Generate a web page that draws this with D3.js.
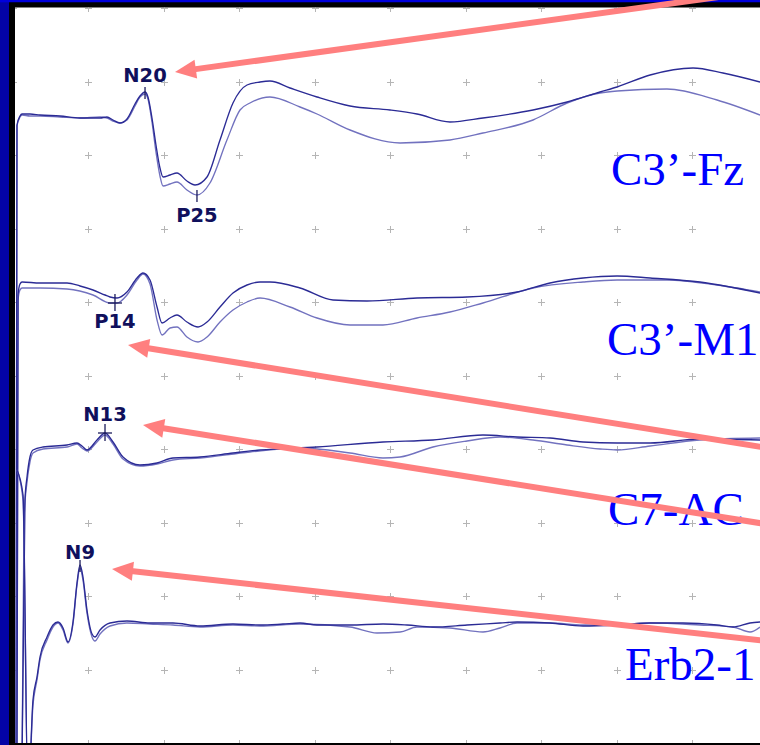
<!DOCTYPE html>
<html><head><meta charset="utf-8">
<script src="https://cdn.jsdelivr.net/npm/d3@7"></script>
<style>html,body{margin:0;padding:0;background:#fff;overflow:hidden}</style>
</head><body><svg id="c" width="760" height="745"></svg>
<script>
// ---------- DATA ----------
const channels = ["C3’-Fz", "C3’-M1", "C7-AC", "Erb2-1"];
const timeTicksMs = [0,10,20,30,40,50,60,70,80,90,100];
const ampRows = [0,1,2,3,4,5,6,7,8,9,10];

// [time ms, amplitude µV] — two superimposed averages per channel
const c3fzA = [[0.45,-64.4],[0.58,-0.9],[0.98,0],[1.25,0.2],[2.3,0.2],[3.63,0.1],[6.28,0],[8.93,-0.2],[11.58,-0.2],[12.5,-0.1],[13.3,-0.4],[14.22,-0.7],[15.15,-0.3],[16.21,1.2],[16.87,2.0],[17.54,2.4],[17.93,1.9],[18.46,-0.2],[18.99,-2.9],[19.52,-5.2],[19.92,-6.1],[20.85,-5.9],[21.77,-5.7],[23.09,-6.5],[24.16,-6.9],[25.75,-6.1],[27.47,-2.4],[29.19,1.3],[31.05,3.1],[32.77,3.4],[34.09,3.5],[36.74,2.8],[40.32,1.9],[44.69,1.0],[49.99,0.6],[53.56,0.2],[57.93,-0.6],[62.3,-0.2],[68.93,0.6],[73.44,1.4],[77.81,2.4],[80.07,2.9],[84.44,4.1],[90.12,4.8],[94.09,4.3],[99.0,3.4]];
const c3fzB = [[0.45,-64.4],[0.58,-1.0],[0.98,-0.1],[1.25,0.1],[2.3,0],[3.63,0],[6.28,-0.1],[8.93,-0.2],[11.58,-0.1],[12.5,-0.2],[13.3,-0.5],[14.22,-0.7],[15.15,-0.4],[16.21,1.0],[16.87,1.9],[17.54,2.2],[17.93,1.7],[18.46,-0.6],[18.99,-3.6],[19.52,-6.0],[19.92,-7.0],[20.85,-6.8],[21.77,-6.6],[23.09,-7.4],[24.42,-7.9],[26.14,-6.7],[28.39,-2.4],[30.12,0.6],[31.44,1.3],[34.09,1.9],[38.07,0.9],[40.32,0.2],[44.69,-1.4],[51.32,-2.7],[57.93,-2.4],[62.3,-1.7],[68.93,-0.4],[73.44,1.3],[77.81,2.3],[80.07,2.5],[86.67,2.7],[93.3,1.6],[99.0,0.1]];
const c3m1A = [[0.58,-47.5],[0.72,-1.0],[0.98,0.1],[1.25,0.3],[3.63,0.2],[7.21,0.2],[8.93,-0.1],[10.65,-0.5],[12.24,-1.0],[12.9,-1.2],[13.83,-1.3],[15.15,-0.7],[16.48,0.7],[17.27,1.2],[18.2,0.5],[19.13,-2.2],[19.79,-3.8],[20.85,-3.3],[21.77,-3.0],[23.09,-3.7],[24.56,-4.2],[25.75,-3.7],[27.47,-2.2],[29.19,-0.8],[31.05,0],[32.77,0.3],[34.09,0.3],[38.07,-0.3],[42.44,-1.5],[46.94,-1.6],[53.56,-1.3],[60.19,-1.2],[66.81,-0.7],[71.18,0.2],[75.56,0.7],[80.07,0.9],[84.44,0.7],[91.04,0.3],[99.0,-0.8]];
const c3m1B = [[0.58,-47.5],[0.72,-1.5],[0.98,-0.5],[1.25,-0.3],[3.63,-0.3],[7.21,-0.4],[10.65,-1.0],[12.9,-1.8],[13.83,-1.8],[15.15,-1.0],[16.48,0.5],[17.27,1.1],[18.2,0.1],[19.13,-3.5],[19.79,-5.0],[20.85,-4.3],[21.77,-4.2],[23.09,-5.2],[24.56,-5.7],[25.75,-5.2],[27.47,-3.7],[29.19,-2.5],[31.05,-1.7],[32.77,-1.3],[36.74,-2.2],[40.32,-3.3],[44.69,-4.0],[49.06,-4.0],[53.56,-3.3],[57.93,-2.7],[62.3,-1.8],[68.93,-0.3],[75.56,0.3],[80.07,0.5],[86.67,0.5],[93.3,0],[99.0,-0.7]];
const c7acA = [[1.25,-31.3],[1.64,-5.3],[1.91,-3.0],[2.3,-1.0],[2.7,-0.3],[4.03,0],[7.21,0.2],[8.53,0.4],[9.19,0.1],[9.85,-0.3],[11.18,0.7],[12.24,1.4],[13.3,0.5],[14.62,-1.0],[16.87,-1.8],[19.13,-1.6],[21.24,-1.1],[24.82,-1.0],[29.19,-0.6],[32.77,-0.3],[40.32,0],[49.06,0.5],[55.68,0.7],[62.3,1.2],[66.81,1.0],[71.18,0.9],[75.56,0.5],[80.07,0.4],[84.44,0.4],[91.04,0.8],[99.0,0.7]];
const c7acB = [[1.25,-31.3],[1.51,-7.3],[1.91,-3.5],[2.3,-1.5],[2.7,-0.6],[4.03,-0.2],[7.21,0],[8.53,0.3],[9.19,-0.1],[9.85,-0.4],[11.18,0.5],[12.24,1.2],[13.3,0.3],[14.62,-1.2],[16.87,-1.9],[19.13,-1.7],[21.24,-1.3],[24.82,-1.1],[31.44,-0.5],[38.07,-0.1],[44.69,-0.6],[49.06,-1.1],[51.32,-1.0],[55.68,0],[60.19,0.6],[64.56,1.0],[68.93,0.7],[73.44,0.2],[77.81,-0.2],[80.07,-0.3],[84.44,0.1],[91.04,0.7],[99.0,0.9]];
const erbA = [[0.58,15.4],[1.38,12.9],[2.04,-17.6],[2.7,-7.6],[3.23,-5.3],[3.63,-3.3],[4.56,-1.3],[5.35,-0.1],[6.01,0.2],[6.68,-0.4],[7.34,-1.8],[8.0,0.2],[8.53,4.1],[8.93,5.9],[9.32,4.7],[9.85,1.4],[10.52,-1.0],[10.91,-1.3],[11.58,-0.6],[12.9,0.1],[15.15,0.3],[18.2,0.1],[21.24,0.1],[24.82,-0.2],[29.19,0],[32.77,-0.1],[35.81,0],[38.07,0.1],[40.32,-0.1],[44.69,-0.1],[49.06,0],[52.24,-0.1],[55.68,-0.3],[60.19,-0.1],[64.56,0.1],[66.81,0.2],[71.18,0.1],[75.56,-0.2],[80.07,-0.1],[84.44,0.1],[88.79,0.1],[93.3,-0.1],[95.42,-0.3],[97.67,0.1],[99.0,0.2]];
const erbB = [[0.58,15.4],[1.38,12.4],[2.04,-17.6],[2.7,-8.1],[3.23,-5.6],[3.63,-3.6],[4.56,-1.6],[5.35,-0.3],[6.01,0.1],[6.68,-0.6],[7.34,-1.9],[8.0,0],[8.53,3.9],[8.93,5.6],[9.32,4.4],[9.85,1.1],[10.52,-1.3],[10.91,-1.7],[11.58,-1.0],[12.9,-0.2],[15.15,0.1],[18.2,0],[21.24,-0.1],[24.82,-0.3],[29.19,-0.1],[32.77,-0.2],[38.07,0],[44.69,-0.3],[48.26,-0.9],[51.32,-0.8],[53.56,-0.3],[57.93,-0.4],[62.3,-0.8],[64.56,-0.4],[66.81,0.1],[71.18,0.1],[75.56,-0.1],[80.07,-0.1],[84.44,0.1],[91.04,-0.1],[95.42,-0.3],[97.67,-0.8],[99.0,-0.3]];

const peakNames   = ["N20","P25","P14","N13","N9"];
const peakChannel = [0, 0, 1, 2, 3];
const peakTimeMs  = [17.54, 24.42, 13.56, 12.24, 8.93];
const peakAmpUv   = [2.4, -7.9, -1.8, 1.4, 5.9];
const peakMark    = ["tick","tick","cross","cross","tick"];
const arrowPeaks  = ["N20","P14","N13","N9"];

// ---------- LAYOUT ----------
const W = 760, H = 745;
const plot = {x0: 15, y0: 7.5, x1: 760, y1: 743};
const chBase = [116, 285, 447, 624];
const chLabelPos = [[611, 185], [607, 355], [608, 525], [625, 680]];
const traceColors = ["#2b2b95", "#7272bf"];
const labelDy = {N20: -10, P25: 27, P14: 25, N13: -12, N9: -6};
const arrowCfg = {
  N20: {dx: 30, dy: -20, slope: -0.138},
  P14: {dx: 13, dy: 42, slope: 0.161},
  N13: {dx: 38, dy: -8, slope: 0.159},
  N9:  {dx: 32, dy: 4, slope: 0.11}
};

const svg = d3.select("#c");
const x = d3.scaleLinear().domain([0, 100]).range([12.6, 767.6]);
const gy = d3.scaleLinear().domain([0, 10]).range([8, 743]);
const yCh = chBase.map(b => d3.scaleLinear().domain([-10, 10]).range([b + 100, b - 100]));

// frame
svg.append("rect").attr("width", W).attr("height", H).attr("fill", "#0303a6");
svg.append("rect").attr("x", 0).attr("y", 0).attr("width", W).attr("height", 2.3).attr("fill", "#0000dc");
svg.append("rect").attr("x", 9).attr("y", 2.3).attr("width", W - 9).attr("height", H - 2.3).attr("fill", "#000");
svg.append("rect").attr("x", plot.x0).attr("y", plot.y0).attr("width", plot.x1 - plot.x0).attr("height", plot.y1 - plot.y0).attr("fill", "#fff");

svg.append("clipPath").attr("id", "clip").append("rect")
  .attr("x", plot.x0).attr("y", plot.y0).attr("width", plot.x1 - plot.x0).attr("height", plot.y1 - plot.y0);
const g = svg.append("g").attr("clip-path", "url(#clip)");

// grid crosses
const grid = g.append("g").attr("stroke", "#b5b5b5").attr("stroke-width", 1);
timeTicksMs.forEach(t => ampRows.forEach(r => {
  const cx = Math.round(x(t)) + 0.5, cy = Math.round(gy(r)) + 0.5;
  grid.append("line").attr("x1", cx - 3.5).attr("x2", cx + 3.5).attr("y1", cy).attr("y2", cy);
  grid.append("line").attr("x1", cx).attr("x2", cx).attr("y1", cy - 3.5).attr("y2", cy + 3.5);
}));

// traces
const traces = [[c3fzA, c3fzB], [c3m1A, c3m1B], [c7acA, c7acB], [erbA, erbB]];
traces.forEach((pair, ci) => {
  const line = d3.line().x(d => x(d[0])).y(d => yCh[ci](d[1])).curve(d3.curveMonotoneX);
  [1, 0].forEach(k => {
    g.append("path").datum(pair[k]).attr("d", line)
      .attr("fill", "none").attr("stroke", traceColors[k]).attr("stroke-width", 1.35)
      .attr("stroke-linejoin", "round");
  });
});

// channel labels
channels.forEach((name, ci) => {
  svg.append("text").attr("x", chLabelPos[ci][0]).attr("y", chLabelPos[ci][1])
    .attr("font-family", "'Liberation Serif', 'Times New Roman', serif")
    .attr("font-size", 47).attr("fill", "#0000ff").text(name);
});

// peak markers + labels
const peakPos = {};
peakNames.forEach((name, i) => {
  const px = x(peakTimeMs[i]), py = yCh[peakChannel[i]](peakAmpUv[i]);
  peakPos[name] = [px, py];
  const m = svg.append("g").attr("stroke", "#1c1c5c").attr("stroke-width", 1.3);
  if (peakMark[i] === "tick") {
    m.append("line").attr("x1", px).attr("x2", px).attr("y1", py - 5).attr("y2", py + 7);
  } else {
    m.append("line").attr("x1", px).attr("x2", px).attr("y1", py - 9).attr("y2", py + 8);
    m.append("line").attr("x1", px - 7).attr("x2", px + 7).attr("y1", py).attr("y2", py);
  }
  svg.append("text").attr("x", px).attr("y", py + labelDy[name])
    .attr("text-anchor", "middle").attr("font-family", "'DejaVu Sans', Verdana, sans-serif")
    .attr("font-weight", "bold").attr("font-size", 19.5).attr("fill", "#10105c").text(name);
});

// annotation arrows
arrowPeaks.forEach(name => {
  const c = arrowCfg[name];
  const tx = peakPos[name][0] + c.dx, ty = peakPos[name][1] + c.dy;
  const ex = 800, ey = ty + c.slope * (ex - tx);
  const len = Math.hypot(ex - tx, ey - ty), ux = (ex - tx) / len, uy = (ey - ty) / len;
  const L = 21, Wd = 9.5;
  const bx = tx + ux * L, by = ty + uy * L;
  svg.append("line").attr("x1", bx - ux * 2).attr("y1", by - uy * 2).attr("x2", ex).attr("y2", ey)
    .attr("stroke", "#ff7f7f").attr("stroke-width", 6);
  svg.append("polygon").attr("points", [[tx, ty], [bx - uy * Wd, by + ux * Wd], [bx + uy * Wd, by - ux * Wd]].map(p => p.join(",")).join(" "))
    .attr("fill", "#ff7f7f");
});
</script></body></html>
